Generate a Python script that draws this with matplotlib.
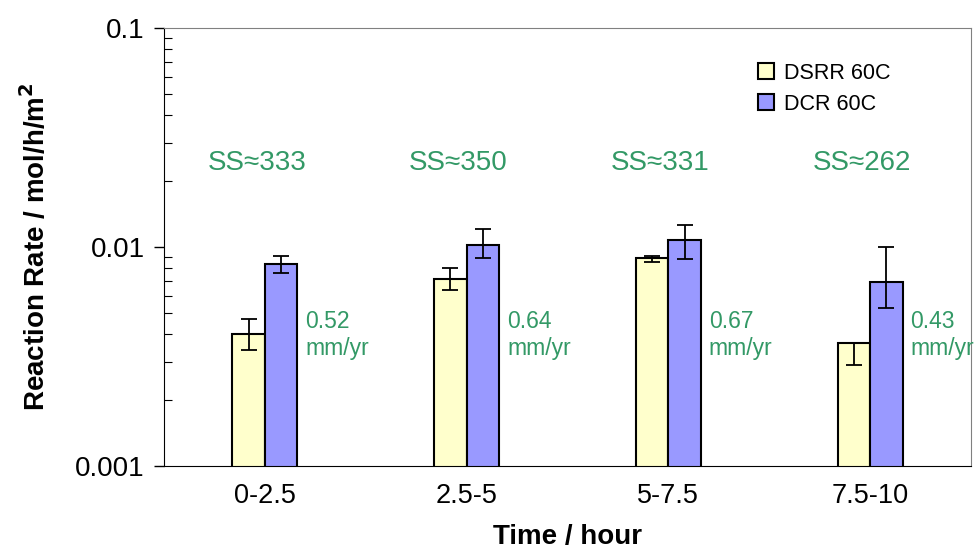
import matplotlib.pyplot as plt
import numpy as np
from matplotlib.ticker import FixedLocator, LogLocator, NullFormatter

plt.rcParams['font.family'] = ['Liberation Sans', 'DejaVu Sans']

# data
periods = ['0-2.5', '2.5-5', '5-7.5', '7.5-10']
dsrr = [0.00401, 0.00716, 0.00888, 0.00363]
dsrr_lo = [0.00339, 0.00636, 0.00852, 0.00289]
dsrr_hi = [0.00469, 0.00805, 0.00913, 0.00363]
dcr = [0.00839, 0.0102, 0.01076, 0.0069]
dcr_lo = [0.00764, 0.00888, 0.00885, 0.00525]
dcr_hi = [0.0091, 0.01213, 0.01259, 0.0100]
ss_labels = ['SS\u2248333', 'SS\u2248350', 'SS\u2248331', 'SS\u2248262']
rate_labels = ['0.52\nmm/yr', '0.64\nmm/yr', '0.67\nmm/yr', '0.43\nmm/yr']

green = '#339966'
w = 0.161

fig = plt.figure(figsize=(9.74, 5.49), dpi=100)
ax = fig.add_axes([0.1684, 0.1512, 0.8285, 0.7978])

x = np.arange(len(periods)) + 0.5
dsrr = np.array(dsrr)
dcr = np.array(dcr)
err1 = [dsrr - np.array(dsrr_lo), np.array(dsrr_hi) - dsrr]
err2 = [dcr - np.array(dcr_lo), np.array(dcr_hi) - dcr]

ax.bar(x - w / 2, dsrr, w, color='#FFFFCC', edgecolor='black', linewidth=1.5,
       label='DSRR 60C', zorder=2)
ax.bar(x + w / 2, dcr, w, color='#9999FF', edgecolor='black', linewidth=1.5,
       label='DCR 60C', zorder=2)
ax.errorbar(x - w / 2, dsrr, yerr=err1, fmt='none', ecolor='black',
            elinewidth=1.3, capsize=6, capthick=1.3, zorder=3)
ax.errorbar(x + w / 2, dcr, yerr=err2, fmt='none', ecolor='black',
            elinewidth=1.3, capsize=6, capthick=1.3, zorder=3)

ax.set_yscale('log')
ax.set_ylim(0.001, 0.1)
ax.set_xlim(0, 4)

for i in range(len(periods)):
    ax.text(x[i] - 0.04, 0.0242, ss_labels[i], color=green, fontsize=20,
            ha='center', va='center')
    ax.text(x[i] + 0.2, 0.00396, rate_labels[i], color=green, fontsize=16.5,
            ha='left', va='center', linespacing=1.25)

ax.set_xticks(x)
ax.set_xticklabels(periods, fontsize=19.5)
ax.tick_params(axis='x', length=0, pad=12)

ax.yaxis.set_major_locator(FixedLocator([0.001, 0.01, 0.1]))
ax.set_yticklabels(['0.001', '0.01', '0.1'], fontsize=20)
ax.yaxis.set_minor_locator(LogLocator(base=10, subs=np.arange(2, 10)))
ax.yaxis.set_minor_formatter(NullFormatter())
ax.tick_params(axis='y', which='major', direction='out', length=7, width=1, pad=7)
ax.tick_params(axis='y', which='minor', direction='in', length=5.5, width=0.8)

for s in ['top', 'right']:
    ax.spines[s].set_color('#808080')
for s in ['left', 'bottom']:
    ax.spines[s].set_color('black')

ax.set_xlabel('Time / hour', fontsize=20, fontweight='bold', labelpad=11)
ax.set_ylabel('Reaction Rate / mol/h/m$^\\mathbf{2}$', fontsize=20, fontweight='bold',
              labelpad=17)

leg = ax.legend(loc='upper left', bbox_to_anchor=(0.725, 0.94), frameon=False,
                fontsize=15.5, handlelength=0.75, handleheight=0.75,
                handletextpad=0.45, labelspacing=0.45, borderaxespad=0)

fig.savefig('out.png', dpi=100)
